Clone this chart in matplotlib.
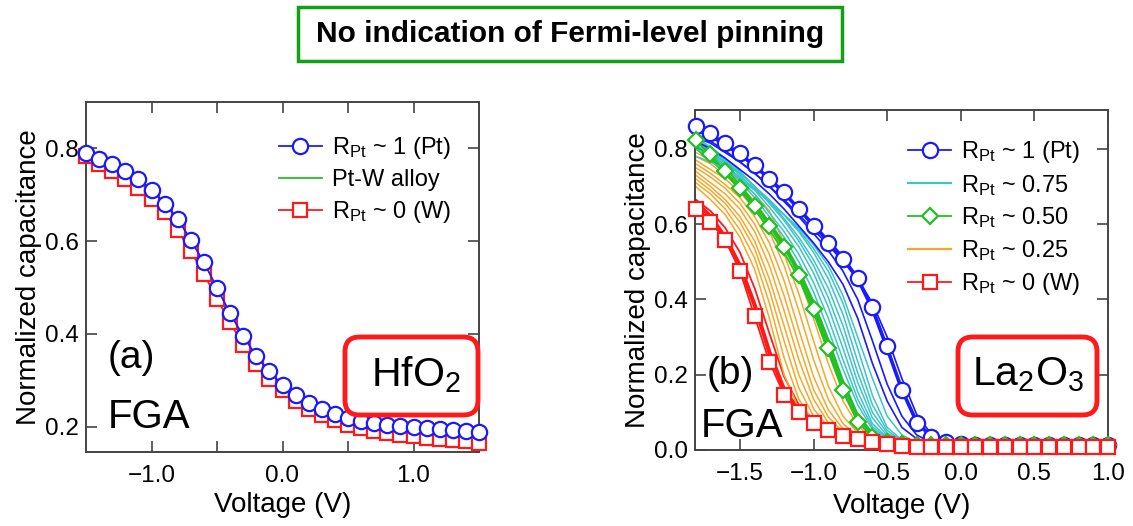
import numpy as np
import matplotlib
matplotlib.use("Agg")
import matplotlib.pyplot as plt
from matplotlib.patches import FancyBboxPatch, Rectangle

plt.rcParams['font.family'] = ['Liberation Sans', 'DejaVu Sans']
plt.rcParams['mathtext.fontset'] = 'custom'
plt.rcParams['mathtext.rm'] = 'Liberation Sans'
plt.rcParams['mathtext.it'] = 'Liberation Sans:italic'

# ---- panel (a): HfO2 ----
va = np.round(np.arange(-1.5, 1.51, 0.1), 2)
hf_pt = [0.791, 0.778, 0.766, 0.752, 0.734, 0.711, 0.681, 0.648, 0.602, 0.554,
         0.499, 0.444, 0.395, 0.352, 0.319, 0.289, 0.267, 0.251, 0.237, 0.227,
         0.218, 0.211, 0.207, 0.204, 0.201, 0.199, 0.196, 0.195, 0.193, 0.191, 0.189]
hf_alloy = [0.789, 0.774, 0.761, 0.745, 0.726, 0.703, 0.673, 0.638, 0.592, 0.544,
            0.489, 0.436, 0.387, 0.345, 0.312, 0.285, 0.263, 0.246, 0.232, 0.221,
            0.212, 0.205, 0.200, 0.196, 0.193, 0.190, 0.187, 0.185, 0.183, 0.181, 0.179]
hf_w = [0.784, 0.766, 0.752, 0.734, 0.714, 0.691, 0.662, 0.623, 0.578, 0.529,
        0.475, 0.425, 0.375, 0.334, 0.302, 0.278, 0.256, 0.238, 0.224, 0.213,
        0.204, 0.196, 0.191, 0.186, 0.182, 0.179, 0.176, 0.173, 0.170, 0.168, 0.165]

# ---- panel (b): La2O3 ----
vb = np.round(np.arange(-1.8, 1.01, 0.1), 2)     # marker grid
vc = np.round(np.arange(-1.8, 0.01, 0.1), 2)     # curve grid
la_pt = [0.860, 0.842, 0.816, 0.789, 0.757, 0.721, 0.684, 0.639, 0.595, 0.551,
         0.507, 0.456, 0.379, 0.275, 0.159, 0.071, 0.035, 0.022, 0.016, 0.014,
         0.013, 0.013, 0.012, 0.012, 0.012, 0.012, 0.012, 0.012, 0.012]
la_050 = [0.822, 0.785, 0.741, 0.697, 0.647, 0.594, 0.538, 0.465, 0.375, 0.271,
          0.159, 0.075, 0.035, 0.022, 0.016, 0.013, 0.012, 0.012, 0.012, 0.012,
          0.012, 0.012, 0.012, 0.012, 0.012, 0.012, 0.012, 0.012, 0.012]
la_w = [0.639, 0.606, 0.558, 0.476, 0.355, 0.234, 0.147, 0.100, 0.073, 0.053,
        0.038, 0.028, 0.020, 0.015, 0.011, 0.009, 0.008, 0.008, 0.008, 0.008,
        0.008, 0.008, 0.008, 0.008, 0.008, 0.008, 0.008, 0.008, 0.008]

blue_curves = [
    [0.82, 0.80, 0.775, 0.745, 0.715, 0.68, 0.64, 0.595, 0.55, 0.50, 0.44, 0.35, 0.23, 0.13, 0.06, 0.03, 0.018, 0.014, 0.012],
    [0.84, 0.82, 0.795, 0.765, 0.735, 0.70, 0.66, 0.62, 0.575, 0.53, 0.475, 0.40, 0.29, 0.175, 0.09, 0.04, 0.02, 0.015, 0.013],
    [0.85, 0.835, 0.81, 0.785, 0.755, 0.72, 0.683, 0.64, 0.597, 0.555, 0.51, 0.455, 0.375, 0.27, 0.16, 0.075, 0.035, 0.02, 0.015],
    [0.83, 0.815, 0.79, 0.765, 0.735, 0.70, 0.665, 0.625, 0.585, 0.545, 0.50, 0.455, 0.39, 0.30, 0.19, 0.095, 0.042, 0.022, 0.015],
]
cyan_curves = [
    [0.82, 0.79, 0.755, 0.715, 0.67, 0.62, 0.565, 0.50, 0.42, 0.32, 0.215, 0.12, 0.055, 0.028, 0.017, 0.013, 0.012, 0.012, 0.012],
    [0.82, 0.795, 0.76, 0.72, 0.68, 0.63, 0.58, 0.52, 0.445, 0.35, 0.24, 0.135, 0.062, 0.03, 0.018, 0.014, 0.012, 0.012, 0.012],
    [0.83, 0.80, 0.765, 0.73, 0.69, 0.645, 0.595, 0.54, 0.47, 0.38, 0.27, 0.155, 0.07, 0.033, 0.02, 0.014, 0.012, 0.012, 0.012],
    [0.83, 0.805, 0.775, 0.74, 0.70, 0.655, 0.61, 0.555, 0.49, 0.405, 0.30, 0.18, 0.085, 0.038, 0.021, 0.015, 0.012, 0.012, 0.012],
    [0.82, 0.80, 0.77, 0.735, 0.70, 0.66, 0.615, 0.565, 0.505, 0.43, 0.33, 0.205, 0.10, 0.045, 0.023, 0.015, 0.012, 0.012, 0.012],
    [0.81, 0.79, 0.765, 0.735, 0.70, 0.665, 0.625, 0.58, 0.525, 0.455, 0.36, 0.235, 0.12, 0.052, 0.025, 0.016, 0.013, 0.012, 0.012],
    [0.80, 0.78, 0.755, 0.725, 0.695, 0.66, 0.625, 0.585, 0.535, 0.475, 0.39, 0.27, 0.145, 0.06, 0.027, 0.017, 0.013, 0.012, 0.012],
    [0.78, 0.765, 0.745, 0.72, 0.69, 0.66, 0.625, 0.59, 0.545, 0.49, 0.41, 0.30, 0.19, 0.09, 0.04, 0.02, 0.014, 0.012, 0.012],
]
green_curves = [
    [0.81, 0.78, 0.74, 0.70, 0.65, 0.60, 0.54, 0.47, 0.385, 0.28, 0.17, 0.085, 0.04, 0.024, 0.016, 0.013, 0.012, 0.012, 0.012],
    [0.82, 0.79, 0.75, 0.705, 0.655, 0.605, 0.55, 0.48, 0.395, 0.295, 0.185, 0.095, 0.045, 0.026, 0.017, 0.013, 0.012, 0.012, 0.012],
    [0.80, 0.77, 0.735, 0.695, 0.65, 0.60, 0.545, 0.475, 0.39, 0.29, 0.18, 0.09, 0.043, 0.025, 0.017, 0.013, 0.012, 0.012, 0.012],
    [0.81, 0.775, 0.735, 0.69, 0.64, 0.585, 0.525, 0.455, 0.365, 0.26, 0.155, 0.075, 0.036, 0.022, 0.016, 0.013, 0.012, 0.012, 0.012],
]
orange_curves = [
    [0.70, 0.665, 0.625, 0.565, 0.48, 0.35, 0.20, 0.11, 0.065, 0.04, 0.028, 0.02, 0.015, 0.012, 0.011, 0.01, 0.01, 0.01, 0.01],
    [0.71, 0.68, 0.64, 0.585, 0.51, 0.39, 0.245, 0.135, 0.075, 0.045, 0.03, 0.021, 0.016, 0.012, 0.011, 0.01, 0.01, 0.01, 0.01],
    [0.72, 0.69, 0.655, 0.605, 0.535, 0.425, 0.29, 0.165, 0.09, 0.052, 0.033, 0.022, 0.016, 0.013, 0.011, 0.01, 0.01, 0.01, 0.01],
    [0.73, 0.70, 0.665, 0.62, 0.555, 0.455, 0.33, 0.20, 0.11, 0.06, 0.036, 0.024, 0.017, 0.013, 0.011, 0.01, 0.01, 0.01, 0.01],
    [0.74, 0.71, 0.68, 0.64, 0.58, 0.49, 0.37, 0.24, 0.135, 0.072, 0.04, 0.026, 0.018, 0.013, 0.011, 0.01, 0.01, 0.01, 0.01],
    [0.75, 0.725, 0.695, 0.655, 0.60, 0.52, 0.41, 0.28, 0.16, 0.088, 0.047, 0.028, 0.019, 0.014, 0.011, 0.01, 0.01, 0.01, 0.01],
    [0.76, 0.735, 0.705, 0.67, 0.62, 0.55, 0.45, 0.32, 0.195, 0.107, 0.056, 0.032, 0.02, 0.014, 0.012, 0.01, 0.01, 0.01, 0.01],
    [0.77, 0.745, 0.72, 0.685, 0.64, 0.58, 0.49, 0.37, 0.24, 0.135, 0.07, 0.038, 0.022, 0.015, 0.012, 0.01, 0.01, 0.01, 0.01],
    [0.78, 0.76, 0.73, 0.70, 0.66, 0.605, 0.52, 0.415, 0.29, 0.17, 0.09, 0.046, 0.025, 0.016, 0.012, 0.01, 0.01, 0.01, 0.01],
    [0.79, 0.77, 0.745, 0.715, 0.68, 0.635, 0.55, 0.46, 0.35, 0.23, 0.13, 0.065, 0.032, 0.018, 0.013, 0.011, 0.01, 0.01, 0.01],
]
red_curves = [
    [0.66, 0.62, 0.565, 0.49, 0.385, 0.26, 0.16, 0.105, 0.075, 0.055, 0.04, 0.03, 0.022, 0.016, 0.012, 0.01, 0.009, 0.009, 0.009],
    [0.665, 0.635, 0.59, 0.525, 0.43, 0.31, 0.195, 0.12, 0.08, 0.058, 0.042, 0.031, 0.022, 0.016, 0.012, 0.01, 0.009, 0.009, 0.009],
]

BLUE = '#1a1aff'
CYAN = '#3cc4c8'
GREEN = '#22c022'
ORANGE = '#f5a82a'
RED = '#ff1a1a'
SPINE = '#444444'
FS_TICK = 17.5
FS_LAB = 20
FS_LEG = 17

fig = plt.figure(figsize=(11.33, 5.26), dpi=100)
ax1 = fig.add_axes([86 / 1133, 74 / 526, 393 / 1133, 350 / 526])
ax2 = fig.add_axes([695 / 1133, 76 / 526, 413 / 1133, 340 / 526])

leg_kw = dict(loc='upper left', frameon=False, fontsize=FS_LEG, handlelength=1.85,
              handletextpad=0.42, labelspacing=0.33, borderaxespad=0, borderpad=0)

# panel (a)
ax1.plot(va, hf_alloy, '-', color=GREEN, lw=1.3, label='Pt-W alloy', zorder=2)
ax1.plot(va, hf_w, '-', color=RED, lw=1.3, marker='s', ms=10, mfc='white',
         mec=RED, mew=1.6, label=r'R$_{\rm Pt}$ ~ 0 (W)', clip_on=False, zorder=3)
ax1.plot(va, hf_pt, '-', color=BLUE, lw=1.3, marker='o', ms=11, mfc='white',
         mec=BLUE, mew=1.6, label=r'R$_{\rm Pt}$ ~ 1 (Pt)', clip_on=False, zorder=4)
h, l = ax1.get_legend_handles_labels()
ax1.legend([h[2], h[0], h[1]], [l[2], l[0], l[1]],
           bbox_to_anchor=(0.49, 0.905), **leg_kw)
ax1.set_xlim(-1.5, 1.5)
ax1.set_ylim(0.145, 0.9)
ax1.set_xticks([-1.0, 0.0, 1.0])
ax1.set_xticks([-0.5, 0.5], minor=True)
ax1.set_xticklabels(['\u22121.0', '0.0', '1.0'])
ax1.set_yticks([0.2, 0.4, 0.6, 0.8])
ax1.set_yticklabels(['0.2', '0.4', '0.6', '0.8'])
ax1.text(0.055, 0.27, '(a)', transform=ax1.transAxes, fontsize=28, va='center')
ax1.text(0.055, 0.10, 'FGA', transform=ax1.transAxes, fontsize=29, va='center')

# panel (b)
for c in red_curves:
    ax2.plot(vc, c, '-', color=RED, lw=1.3, zorder=2)
ax2.plot(vc, red_curves[0], '-', color=RED, lw=3.0, zorder=2)
for c in orange_curves:
    ax2.plot(vc, c, '-', color=ORANGE, lw=1.1, zorder=2)
for c in green_curves:
    ax2.plot(vc, c, '-', color=GREEN, lw=1.3, zorder=2)
for c in cyan_curves:
    ax2.plot(vc, c, '-', color=CYAN, lw=1.1, zorder=2)
for c in blue_curves:
    ax2.plot(vc, c, '-', color=BLUE, lw=1.2, zorder=2)
ax2.plot(vc, blue_curves[2], '-', color=BLUE, lw=2.6, zorder=2)

l_pt, = ax2.plot(vb, la_pt, '-', color=BLUE, lw=1.3, marker='o', ms=11, mfc='white',
                 mec=BLUE, mew=1.6, clip_on=False, zorder=4)
l_075, = ax2.plot([], [], '-', color=CYAN, lw=1.6)
l_050, = ax2.plot(vb, la_050, '-', color=GREEN, lw=1.3, marker='D', ms=8, mfc='white',
                  mec=GREEN, mew=1.6, clip_on=False, zorder=4)
l_025, = ax2.plot([], [], '-', color=ORANGE, lw=1.6)
l_w, = ax2.plot(vb, la_w, '-', color=RED, lw=1.3, marker='s', ms=10, mfc='white',
                mec=RED, mew=1.6, clip_on=False, zorder=5)
ax2.legend([l_pt, l_075, l_050, l_025, l_w],
           [r'R$_{\rm Pt}$ ~ 1 (Pt)', r'R$_{\rm Pt}$ ~ 0.75', r'R$_{\rm Pt}$ ~ 0.50',
            r'R$_{\rm Pt}$ ~ 0.25', r'R$_{\rm Pt}$ ~ 0 (W)'],
           bbox_to_anchor=(0.515, 0.915), **leg_kw)
ax2.set_xlim(-1.805, 1.0)
ax2.set_ylim(0.0, 0.903)
ax2.set_xticks([-1.5, -1.0, -0.5, 0.0, 0.5, 1.0])
ax2.set_xticklabels(['\u22121.5', '\u22121.0', '\u22120.5', '0.0', '0.5', '1.0'])
ax2.set_yticks([0.0, 0.2, 0.4, 0.6, 0.8])
ax2.set_yticklabels(['0.0', '0.2', '0.4', '0.6', '0.8'])
ax2.text(0.028, 0.225, '(b)', transform=ax2.transAxes, fontsize=28, va='center')
ax2.text(0.015, 0.07, 'FGA', transform=ax2.transAxes, fontsize=29, va='center')

for ax in (ax1, ax2):
    for s in ax.spines.values():
        s.set_color(SPINE)
        s.set_linewidth(1.4)
    ax.tick_params(which='both', direction='in', top=True, right=True,
                   length=8, width=1.2, color=SPINE, labelsize=FS_TICK, pad=5)
    ax.tick_params(axis='x', pad=9)
    ax.set_ylabel('Normalized capacitance', fontsize=FS_LAB, labelpad=2)
ax1.set_xlabel('Voltage (V)', fontsize=FS_LAB, labelpad=4)
ax2.set_xlabel('Voltage (V)', fontsize=FS_LAB, labelpad=6)

# rounded material boxes
asp = 1133 / 526
for (x0, w, txt, tx) in [(345, 133, r'HfO$_2$', 416), (958, 139, r'La$_2$O$_3$', 1028)]:
    fig.patches.append(FancyBboxPatch((x0 / 1133, (526 - 415) / 526), w / 1133, 78 / 526,
                                      boxstyle='round,pad=0,rounding_size=0.013',
                                      mutation_aspect=asp, transform=fig.transFigure,
                                      fc='white', ec=RED, lw=3.5, zorder=10))
    fig.text(tx / 1133, (526 - 375) / 526, txt, fontsize=29.5, ha='center',
             va='center', zorder=11)

# title box
fig.patches.append(Rectangle((298 / 1133, (526 - 61) / 526), 544 / 1133, 54 / 526,
                             transform=fig.transFigure, fc='white', ec='#14a014', lw=2.5))
fig.text(570 / 1133, (526 - 34) / 526, 'No indication of Fermi-level pinning',
         fontsize=21.5, fontweight='bold', ha='center', va='center')

fig.savefig('out.png', dpi=100)
